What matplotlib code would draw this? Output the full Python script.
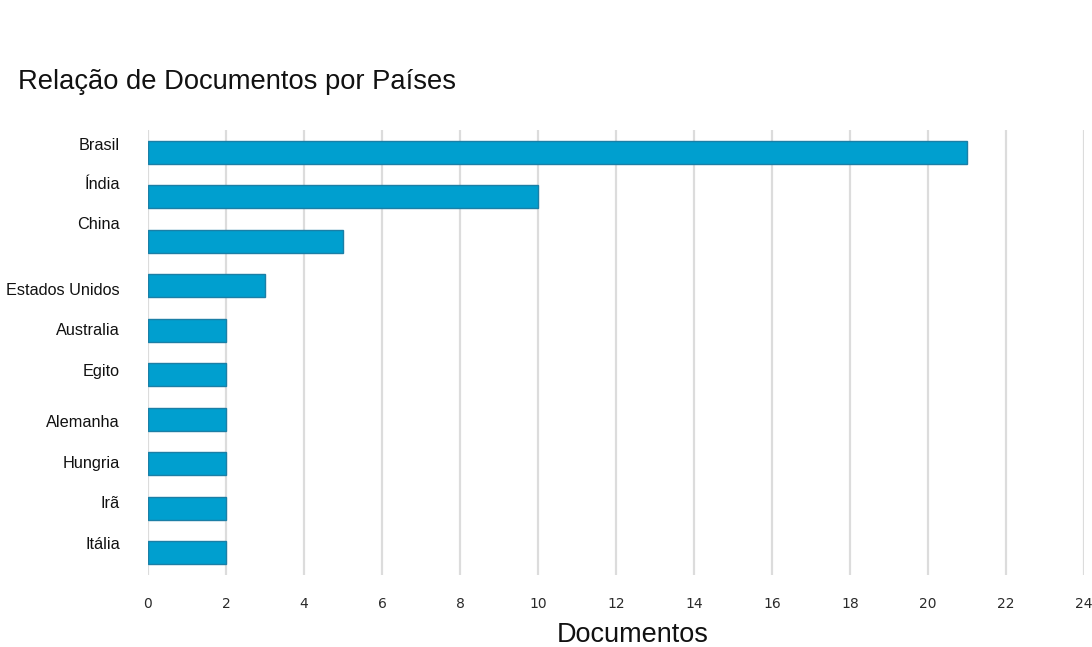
import matplotlib.pyplot as plt

plt.rcParams['font.family'] = ['Liberation Sans', 'DejaVu Sans']

paises = ['Brasil', 'Índia', 'China', 'Estados Unidos', 'Australia', 'Egito',
          'Alemanha', 'Hungria', 'Irã', 'Itália']
documentos = [21, 10, 5, 3, 2, 2, 2, 2, 2, 2]
# small vertical shift of each country label relative to its bar (as in the original)
label_shift = [-0.16, -0.27, -0.38, 0.11, 0.0, -0.07, 0.07, 0.0, -0.11, -0.18]
x_ticks = list(range(0, 25, 2))

fig = plt.figure(figsize=(10.92, 6.47), dpi=100)
fig.patch.set_facecolor('white')
ax = fig.add_axes([0.1355, 0.111, 0.8572, 0.688])

pos = list(range(len(paises)))
ax.barh(pos, documentos, height=0.52, color='#009fcf', edgecolor='#1b7fa6',
        linewidth=1.0, zorder=3)

ax.set_xlim(0, 24)
ax.set_ylim(len(paises) - 0.5, -0.5)
ax.set_xticks(x_ticks)
ax.set_xticklabels([str(t) for t in x_ticks], family='DejaVu Sans', fontsize=10,
                   color='#2a2a2a')
ax.tick_params(axis='x', length=0, pad=16)
ax.set_yticks([])
for i, (name, dy) in enumerate(zip(paises, label_shift)):
    ax.text(-0.72, i + dy, name, ha='right', va='center', fontsize=11.7,
            color='#111111')

ax.grid(axis='x', color='#dcdcdc', linewidth=1.6, zorder=0)
for s in ax.spines.values():
    s.set_visible(False)

ax.set_xlabel('Documentos', fontsize=19.5, color='#111111')
ax.xaxis.set_label_coords(0.518, -0.105)

fig.text(0.0165, 0.873, 'Relação de Documentos por Países', fontsize=19.7,
         color='#111111', ha='left', va='center')

fig.savefig('out.png', dpi=100, facecolor='white')
